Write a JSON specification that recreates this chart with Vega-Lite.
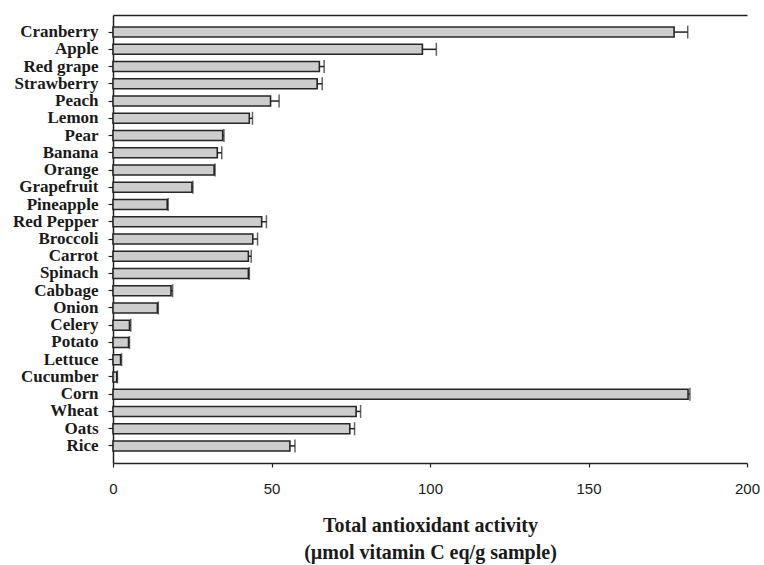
{
  "$schema": "https://vega.github.io/schema/vega-lite/v6.json",
  "width": 634,
  "height": 448,
  "autosize": {"type": "none"},
  "padding": {"left": 113, "top": 15, "right": 17, "bottom": 102},
  "background": "white",
  "config": {
    "view": {"stroke": null},
    "axis": {"domainColor": "#222222", "tickColor": "#222222", "domainWidth": 1.5, "tickWidth": 1.2, "grid": false}
  },
  "data": {
    "values": [
      {"food": "Cranberry", "value": 177.0, "upper": 181.3},
      {"food": "Apple", "value": 97.6, "upper": 102.0},
      {"food": "Red grape", "value": 65.1, "upper": 66.6},
      {"food": "Strawberry", "value": 64.4, "upper": 66.0},
      {"food": "Peach", "value": 49.7, "upper": 52.4},
      {"food": "Lemon", "value": 43.0, "upper": 44.0},
      {"food": "Pear", "value": 34.6, "upper": 35.0},
      {"food": "Banana", "value": 32.9, "upper": 34.3},
      {"food": "Orange", "value": 31.9, "upper": 32.2},
      {"food": "Grapefruit", "value": 24.9, "upper": 25.2},
      {"food": "Pineapple", "value": 17.1, "upper": 17.4},
      {"food": "Red Pepper", "value": 46.9, "upper": 48.4},
      {"food": "Broccoli", "value": 44.1, "upper": 45.6},
      {"food": "Carrot", "value": 42.7, "upper": 43.6},
      {"food": "Spinach", "value": 42.7, "upper": 43.0},
      {"food": "Cabbage", "value": 18.3, "upper": 18.8},
      {"food": "Onion", "value": 14.0, "upper": 14.3},
      {"food": "Celery", "value": 5.2, "upper": 5.6},
      {"food": "Potato", "value": 4.9, "upper": 5.2},
      {"food": "Lettuce", "value": 2.4, "upper": 2.7},
      {"food": "Cucumber", "value": 1.2, "upper": 1.4},
      {"food": "Corn", "value": 181.4, "upper": 182.0},
      {"food": "Wheat", "value": 76.7, "upper": 78.1},
      {"food": "Oats", "value": 74.7, "upper": 76.2},
      {"food": "Rice", "value": 55.8, "upper": 57.4}
    ]
  },
  "encoding": {
    "y": {
      "field": "food",
      "type": "nominal",
      "sort": null,
      "scale": {"paddingInner": 0.42, "paddingOuter": 0.7},
      "axis": {
        "title": null,
        "tickSize": 5,
        "labelFont": "Liberation Serif",
        "labelFontWeight": "bold",
        "labelFontSize": 17,
        "labelColor": "#1a1a1a",
        "labelPadding": 10
      }
    }
  },
  "layer": [
    {
      "mark": {"type": "bar", "fill": "#cdcdcd", "stroke": "#262626", "strokeWidth": 1.6},
      "encoding": {
        "x": {
          "field": "value",
          "type": "quantitative",
          "scale": {"domain": [0, 200], "nice": false},
          "axis": {
            "orient": "bottom",
            "values": [0, 50, 100, 150, 200],
            "tickSize": 4,
            "labelFont": "Liberation Sans",
            "labelFontSize": 15,
            "labelColor": "#1a1a1a",
            "labelPadding": 14,
            "labelFlush": false,
            "title": ["Total antioxidant activity", "(µmol vitamin C eq/g sample)"],
            "titleFont": "Liberation Serif",
            "titleFontWeight": "bold",
            "titleFontSize": 20,
            "titleColor": "#1a1a1a",
            "titleLineHeight": 27,
            "titlePadding": 19
          }
        }
      }
    },
    {
      "mark": {"type": "rule", "color": "#222222", "strokeWidth": 1.5},
      "encoding": {
        "x": {
          "field": "value",
          "type": "quantitative",
          "axis": {"orient": "top", "labels": false, "ticks": false, "title": null, "domain": true}
        },
        "x2": {"field": "upper"}
      }
    },
    {
      "mark": {"type": "tick", "color": "#222222", "thickness": 1.5, "size": 13},
      "encoding": {
        "x": {"field": "upper", "type": "quantitative", "axis": null}
      }
    }
  ],
  "resolve": {"axis": {"x": "independent"}}
}
